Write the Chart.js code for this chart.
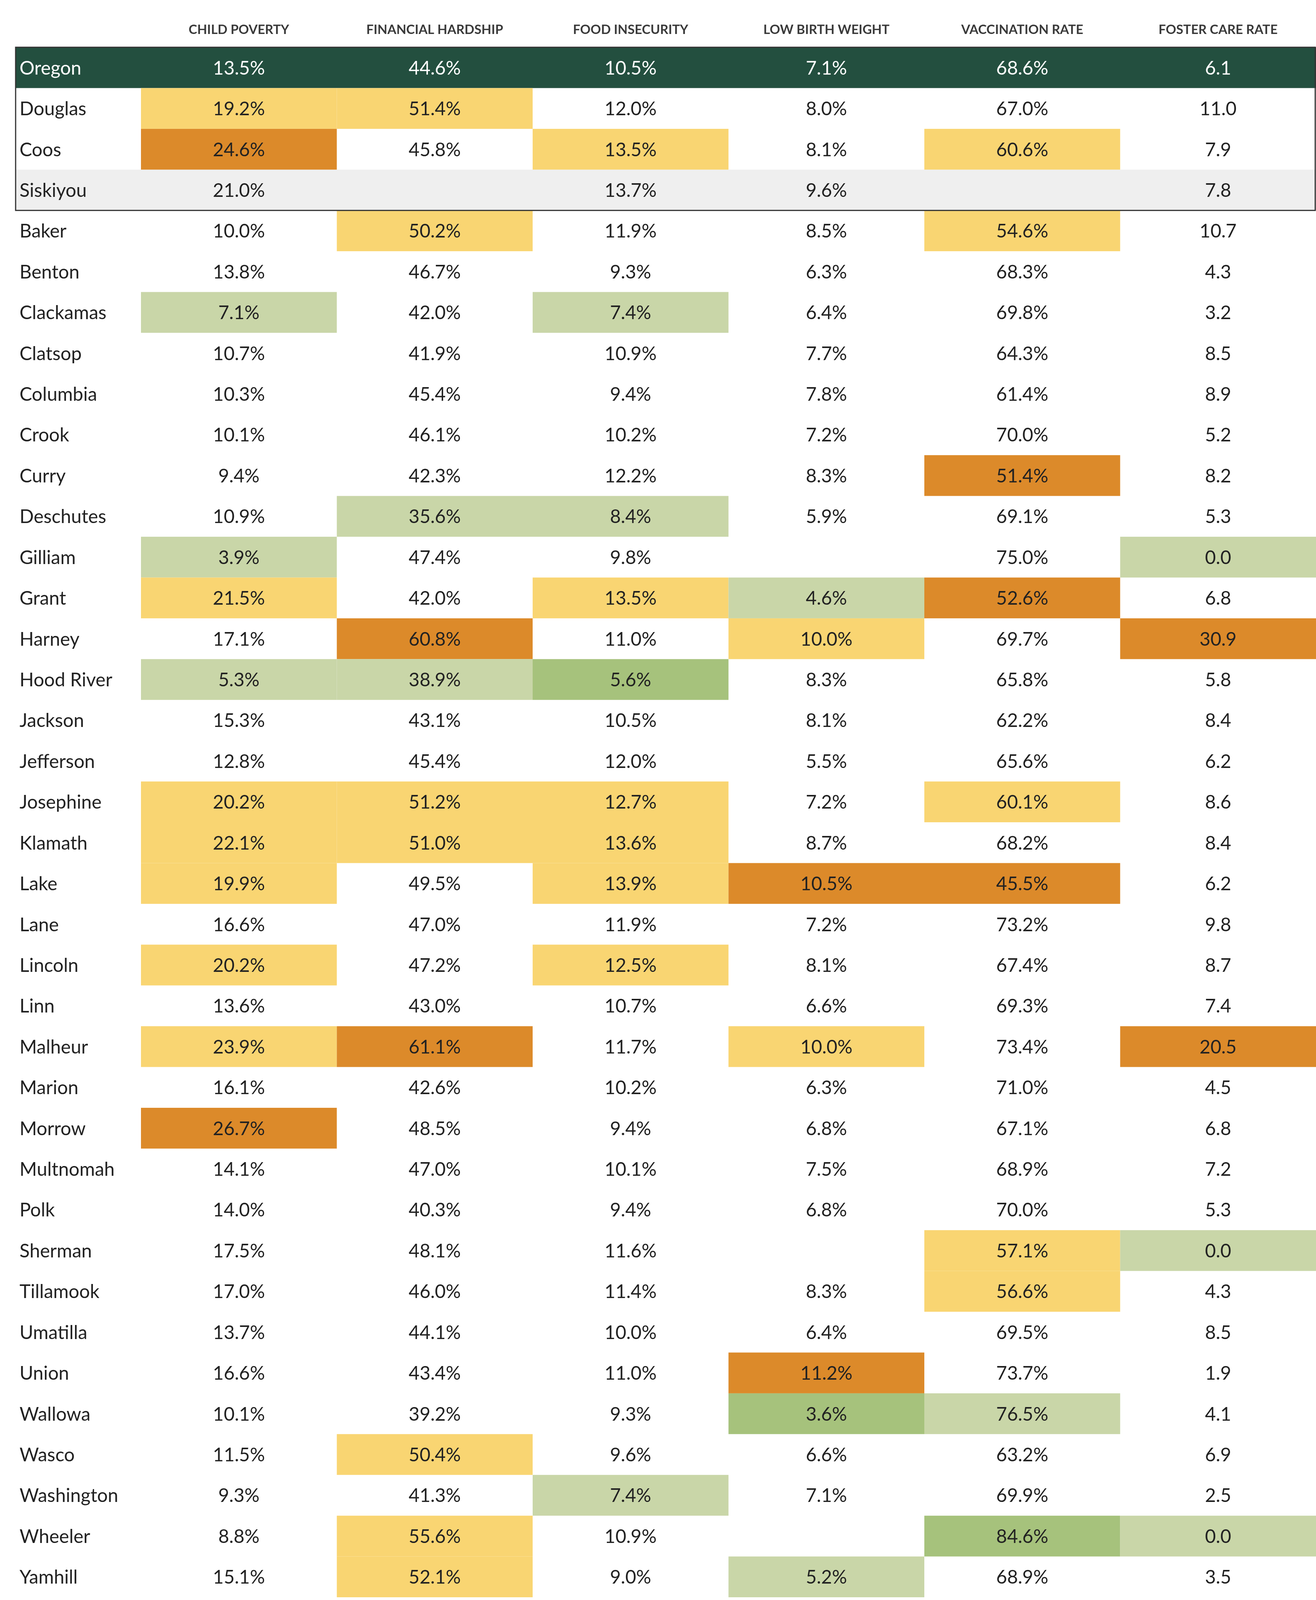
<!DOCTYPE html>
<html>
<head>
<meta charset="utf-8">
<script src="https://cdn.jsdelivr.net/npm/chart.js@4"></script>
<style>
  html, body { margin: 0; padding: 0; background: #fff; }
  canvas { display: block; }
</style>
</head>
<body>
<canvas id="heat" width="3370" height="4116"></canvas>
<script>
'use strict';

const COLUMNS = ['CHILD POVERTY', 'FINANCIAL HARDSHIP', 'FOOD INSECURITY',
  'LOW BIRTH WEIGHT', 'VACCINATION RATE', 'FOSTER CARE RATE'];

const COUNTIES = ['Oregon', 'Douglas', 'Coos', 'Siskiyou', 'Baker', 'Benton', 'Clackamas',
  'Clatsop', 'Columbia', 'Crook', 'Curry', 'Deschutes', 'Gilliam', 'Grant', 'Harney',
  'Hood River', 'Jackson', 'Jefferson', 'Josephine', 'Klamath', 'Lake', 'Lane', 'Lincoln',
  'Linn', 'Malheur', 'Marion', 'Morrow', 'Multnomah', 'Polk', 'Sherman', 'Tillamook',
  'Umatilla', 'Union', 'Wallowa', 'Wasco', 'Washington', 'Wheeler', 'Yamhill'];

const childPoverty = [13.5,19.2,24.6,21.0,10.0,13.8,7.1,10.7,10.3,10.1,9.4,10.9,3.9,21.5,17.1,5.3,15.3,12.8,20.2,22.1,19.9,16.6,20.2,13.6,23.9,16.1,26.7,14.1,14.0,17.5,17.0,13.7,16.6,10.1,11.5,9.3,8.8,15.1];
const financialHardship = [44.6,51.4,45.8,null,50.2,46.7,42.0,41.9,45.4,46.1,42.3,35.6,47.4,42.0,60.8,38.9,43.1,45.4,51.2,51.0,49.5,47.0,47.2,43.0,61.1,42.6,48.5,47.0,40.3,48.1,46.0,44.1,43.4,39.2,50.4,41.3,55.6,52.1];
const foodInsecurity = [10.5,12.0,13.5,13.7,11.9,9.3,7.4,10.9,9.4,10.2,12.2,8.4,9.8,13.5,11.0,5.6,10.5,12.0,12.7,13.6,13.9,11.9,12.5,10.7,11.7,10.2,9.4,10.1,9.4,11.6,11.4,10.0,11.0,9.3,9.6,7.4,10.9,9.0];
const lowBirthWeight = [7.1,8.0,8.1,9.6,8.5,6.3,6.4,7.7,7.8,7.2,8.3,5.9,null,4.6,10.0,8.3,8.1,5.5,7.2,8.7,10.5,7.2,8.1,6.6,10.0,6.3,6.8,7.5,6.8,null,8.3,6.4,11.2,3.6,6.6,7.1,null,5.2];
const vaccinationRate = [68.6,67.0,60.6,null,54.6,68.3,69.8,64.3,61.4,70.0,51.4,69.1,75.0,52.6,69.7,65.8,62.2,65.6,60.1,68.2,45.5,73.2,67.4,69.3,73.4,71.0,67.1,68.9,70.0,57.1,56.6,69.5,73.7,76.5,63.2,69.9,84.6,68.9];
const fosterCareRate = [6.1,11.0,7.9,7.8,10.7,4.3,3.2,8.5,8.9,5.2,8.2,5.3,0.0,6.8,30.9,5.8,8.4,6.2,8.6,8.4,6.2,9.8,8.7,7.4,20.5,4.5,6.8,7.2,5.3,0.0,4.3,8.5,1.9,4.1,6.9,2.5,0.0,3.5];

// shading class per cell: y = worse, o = much worse, g = better, G = much better
const childPovertyClass      = ['', 'y','o','', '', '', 'g','', '', '', '', '', 'g','y','', 'g','', '', 'y','y','y','', 'y','', 'y','', 'o','', '', '', '', '', '', '', '', '', '', ''];
const financialHardshipClass = ['', 'y','', '', 'y','', '', '', '', '', '', 'g','', '', 'o','g','', '', 'y','y','', '', '', '', 'o','', '', '', '', '', '', '', '', '', 'y','', 'y','y'];
const foodInsecurityClass    = ['', '', 'y','', '', '', 'g','', '', '', '', 'g','', 'y','', 'G','', '', 'y','y','y','', 'y','', '', '', '', '', '', '', '', '', '', '', '', 'g','', ''];
const lowBirthWeightClass    = ['', '', '', '', '', '', '', '', '', '', '', '', '', 'g','y','', '', '', '', '', 'o','', '', '', 'y','', '', '', '', '', '', '', 'o','G','', '', '', 'g'];
const vaccinationRateClass   = ['', '', 'y','', 'y','', '', '', '', '', 'o','', '', 'o','', '', '', '', 'y','', 'o','', '', '', '', '', '', '', '', 'y','y','', '', 'g','', '', 'G',''];
const fosterCareRateClass    = ['', '', '', '', '', '', '', '', '', '', '', '', 'g','', 'o','', '', '', '', '', '', '', '', '', 'o','', '', '', '', 'g','', '', '', '', '', '', 'g',''];

const SERIES  = [childPoverty, financialHardship, foodInsecurity, lowBirthWeight, vaccinationRate, fosterCareRate];
const CLASSES = [childPovertyClass, financialHardshipClass, foodInsecurityClass, lowBirthWeightClass, vaccinationRateClass, fosterCareRateClass];
const IS_PCT  = [true, true, true, true, true, false];

const SHADE = { y: '#f9d572', o: '#dc8a2a', g: '#c9d6a8', G: '#a6c27c' };
const STATE_BG = '#234f3f';
const GRAY_BG  = '#efefef';
const FONT = 'Lato, "Open Sans", sans-serif';

const tablePlugin = {
  id: 'heatTable',
  beforeDatasetsDraw(chart) {
    const { ctx, chartArea: a, scales: { x, y } } = chart;
    const cw = (a.right - a.left) / COLUMNS.length;
    const rh = (a.bottom - a.top) / COUNTIES.length;
    const boxLeft = 40;
    ctx.save();

    // full-width row backgrounds
    COUNTIES.forEach((name, r) => {
      const cy = y.getPixelForValue(r);
      if (r === 0) { ctx.fillStyle = STATE_BG; ctx.fillRect(boxLeft, cy - rh / 2, a.right - boxLeft, rh); }
      if (r === 3) { ctx.fillStyle = GRAY_BG;  ctx.fillRect(boxLeft, cy - rh / 2, a.right - boxLeft, rh); }
    });

    // shaded cells
    SERIES.forEach((vals, c) => {
      const cx = x.getPixelForValue(c);
      vals.forEach((v, r) => {
        const k = CLASSES[c][r];
        if (!k) return;
        const cy = y.getPixelForValue(r);
        ctx.fillStyle = SHADE[k];
        ctx.fillRect(cx - cw / 2, cy - rh / 2, cw, rh);
      });
    });

    // column headers
    ctx.fillStyle = '#3a3a3a';
    ctx.font = 'bold 33px ' + FONT;
    ctx.textAlign = 'center';
    ctx.textBaseline = 'middle';
    COLUMNS.forEach((h, c) => ctx.fillText(h, x.getPixelForValue(c), 76));

    // values and row labels
    ctx.font = '48px ' + FONT;
    COUNTIES.forEach((name, r) => {
      const cy = y.getPixelForValue(r) + 2;
      ctx.fillStyle = r === 0 ? '#ffffff' : '#222222';
      ctx.textAlign = 'left';
      ctx.fillText(name, 50, cy);
      ctx.textAlign = 'center';
      SERIES.forEach((vals, c) => {
        const v = vals[r];
        if (v === null) return;
        ctx.fillText(v.toFixed(1) + (IS_PCT[c] ? '%' : ''), x.getPixelForValue(c), cy);
      });
    });

    // box around state and highlighted counties
    const top = y.getPixelForValue(0) - rh / 2;
    const bot = y.getPixelForValue(3) + rh / 2;
    ctx.strokeStyle = '#333333';
    ctx.lineWidth = 3;
    ctx.strokeRect(boxLeft, top, a.right - boxLeft - 2, bot - top);
    ctx.restore();
  },
};

new Chart(document.getElementById('heat'), {
  type: 'scatter',
  data: {
    datasets: [{
      data: COUNTIES.map((n, r) => ({ x: COLUMNS[0], y: n })),
      pointRadius: 0,
    }],
  },
  options: {
    responsive: false,
    devicePixelRatio: 1,
    animation: false,
    layout: { padding: { left: 361, top: 121, right: 0, bottom: 27 } },
    plugins: { legend: { display: false }, tooltip: { enabled: false } },
    scales: {
      x: { type: 'category', labels: COLUMNS, offset: true, display: false },
      y: { type: 'category', labels: COUNTIES, offset: true, display: false },
    },
  },
  plugins: [tablePlugin],
});
</script>
</body>
</html>
